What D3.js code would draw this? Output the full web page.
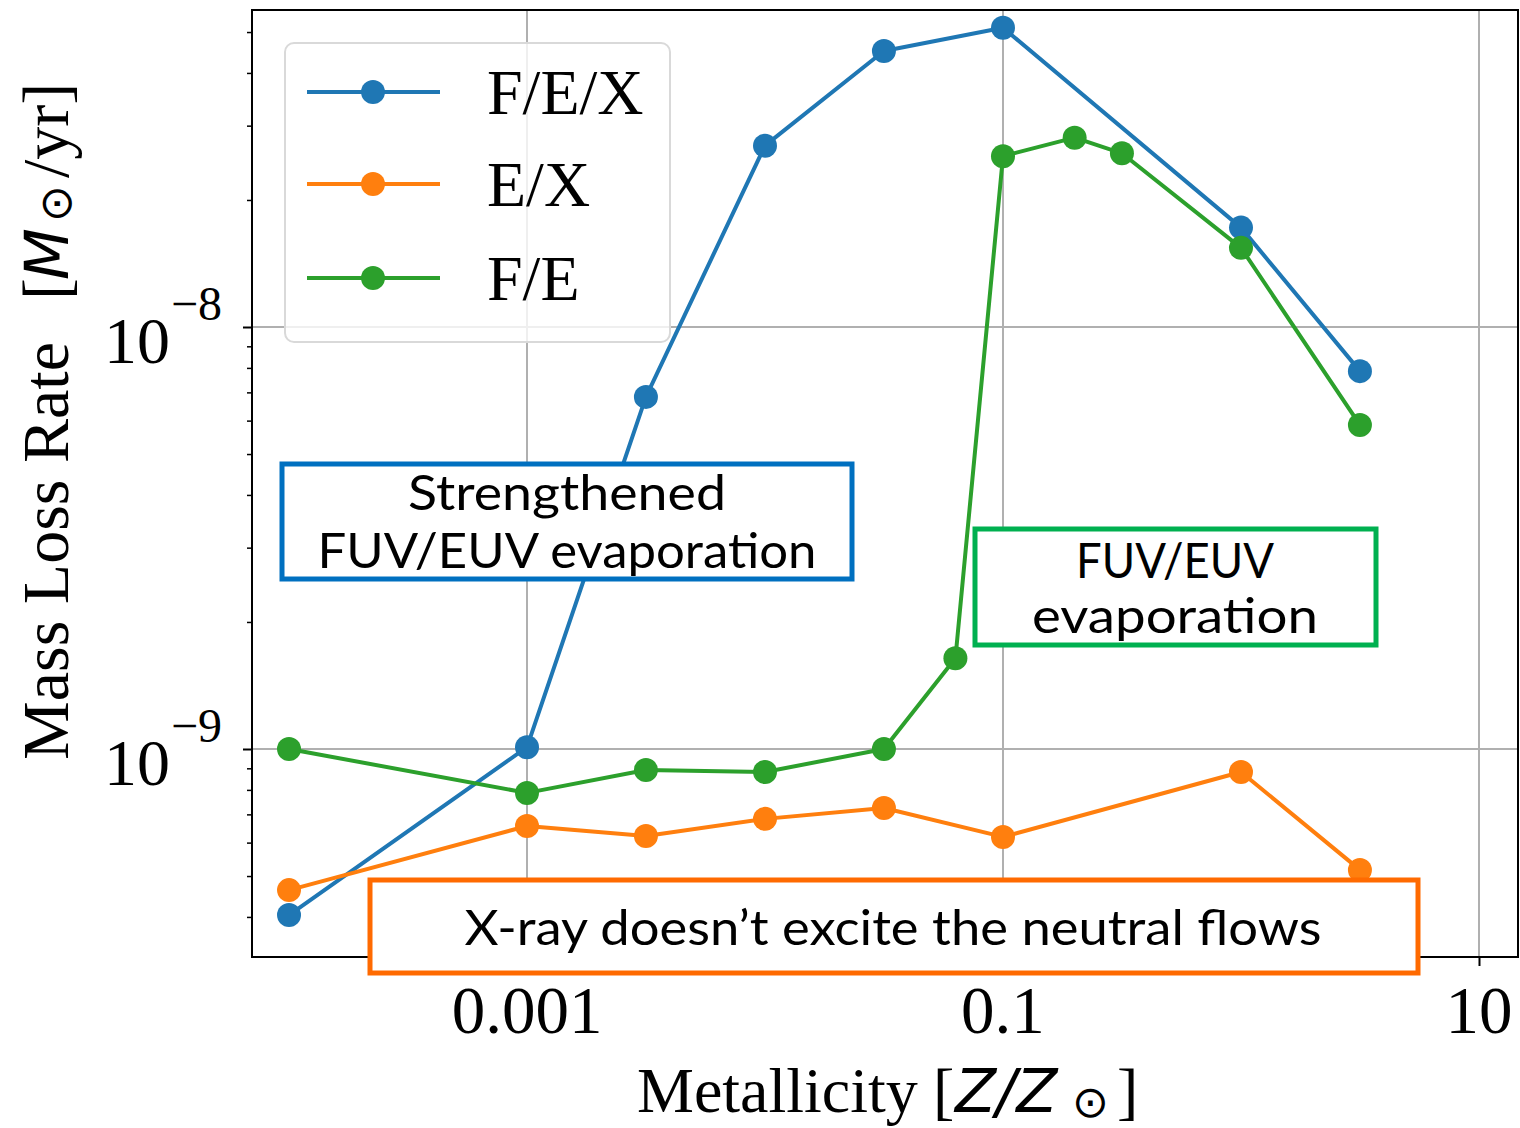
<!DOCTYPE html>
<html>
<head>
<meta charset="utf-8">
<script src="https://cdn.jsdelivr.net/npm/d3@7"></script>
<style>
  html, body { margin: 0; padding: 0; background: #fff; }
  svg { display: block; }
</style>
</head>
<body>
<svg id="chart" width="1520" height="1128"></svg>
<script>
// Mass loss rate vs metallicity for three irradiation setups
const zCoarse = [0.0001, 0.001, 0.00316, 0.01, 0.0316, 0.1, 1, 3.16];
const zFine   = [0.0001, 0.001, 0.00316, 0.01, 0.0316, 0.0631, 0.1, 0.2, 0.316, 1, 3.16];

const rateFEX = [4.04e-10, 1.01e-9, 6.83e-9, 2.69e-8, 4.51e-8, 5.12e-8, 1.72e-8, 7.86e-9];
const rateEX  = [4.63e-10, 6.57e-10, 6.22e-10, 6.83e-10, 7.25e-10, 6.19e-10, 8.82e-10, 5.17e-10];
const rateFE  = [1.0e-9, 7.87e-10, 8.92e-10, 8.82e-10, 1.0e-9, 1.64e-9, 2.54e-8, 2.81e-8, 2.58e-8, 1.54e-8, 5.86e-9];

const seriesNames  = ["F/E/X", "E/X", "F/E"];
const seriesColors = ["#1f77b4", "#ff7f0e", "#2ca02c"];

const xTickValues = [0.001, 0.1, 10];
const xTickLabels = ["0.001", "0.1", "10"];
const yTickExponents = [-8, -9];

const notes = [
  { lines: ["Strengthened", "FUV/EUV evaporation"], color: "#0070c0" },
  { lines: ["FUV/EUV", "evaporation"], color: "#00b050" },
  { lines: ["X-ray doesn\u2019t excite the neutral flows"], color: "#ff6a00" }
];

const series = [
  { name: seriesNames[0], color: seriesColors[0], xs: zCoarse, ys: rateFEX },
  { name: seriesNames[1], color: seriesColors[1], xs: zCoarse, ys: rateEX },
  { name: seriesNames[2], color: seriesColors[2], xs: zFine,   ys: rateFE }
];

const svg = d3.select("#chart");
const plot = { left: 252, right: 1518, top: 10, bottom: 957 };

const x = d3.scaleLog()
  .domain([Math.pow(10, -4.1555), Math.pow(10, 1.1639)])
  .range([plot.left, plot.right]);
const y = d3.scaleLog()
  .domain([Math.pow(10, -9.4929), Math.pow(10, -7.2488)])
  .range([plot.bottom, plot.top]);

const serif = "'Liberation Serif', 'Times New Roman', serif";
const mathSans = "'DejaVu Sans', sans-serif";
const noteFont = "Lato, 'Noto Sans', sans-serif";

// grid
const grid = svg.append("g").attr("stroke", "#b0b0b0").attr("stroke-width", 2);
grid.selectAll("line.gx").data(xTickValues).join("line")
  .attr("x1", d => x(d)).attr("x2", d => x(d))
  .attr("y1", plot.top).attr("y2", plot.bottom);
grid.selectAll("line.gy").data(yTickExponents).join("line")
  .attr("x1", plot.left).attr("x2", plot.right)
  .attr("y1", d => y(Math.pow(10, d))).attr("y2", d => y(Math.pow(10, d)));

// axes (ticks via d3 axis generators)
const xAxis = d3.axisBottom(x).tickValues(xTickValues).tickFormat("").tickSize(9).tickSizeOuter(0);
svg.append("g").attr("transform", `translate(0,${plot.bottom})`).call(xAxis)
  .call(g => g.select(".domain").remove())
  .call(g => g.selectAll("line").attr("stroke", "#000").attr("stroke-width", 2));

const yMinor = [];
[-10, -9, -8].forEach(e => { for (let m = 2; m <= 9; m++) yMinor.push(m * Math.pow(10, e)); });
const yMinorIn = yMinor.filter(v => v >= y.domain()[0] && v <= y.domain()[1]);
svg.append("g").attr("transform", `translate(${plot.left},0)`)
  .call(d3.axisLeft(y).tickValues(yMinorIn).tickFormat("").tickSize(5).tickSizeOuter(0))
  .call(g => g.select(".domain").remove())
  .call(g => g.selectAll("line").attr("stroke", "#000").attr("stroke-width", 1.5));
svg.append("g").attr("transform", `translate(${plot.left},0)`)
  .call(d3.axisLeft(y).tickValues(yTickExponents.map(e => Math.pow(10, e))).tickFormat("").tickSize(9).tickSizeOuter(0))
  .call(g => g.select(".domain").remove())
  .call(g => g.selectAll("line").attr("stroke", "#000").attr("stroke-width", 2));

// frame
svg.append("rect")
  .attr("x", plot.left).attr("y", plot.top)
  .attr("width", plot.right - plot.left).attr("height", plot.bottom - plot.top)
  .attr("fill", "none").attr("stroke", "#000").attr("stroke-width", 2);

// x tick labels
svg.append("g").selectAll("text").data(xTickValues).join("text")
  .attr("x", d => x(d)).attr("y", 1033)
  .attr("text-anchor", "middle")
  .attr("font-family", serif).attr("font-size", 67)
  .text((d, i) => xTickLabels[i]);

// y tick labels 10^k
const yLab = svg.append("g").selectAll("g").data(yTickExponents).join("g")
  .attr("transform", d => `translate(0,${y(Math.pow(10, d))})`);
yLab.append("text")
  .attr("x", 170).attr("y", 36).attr("text-anchor", "end")
  .attr("font-family", serif).attr("font-size", 66).text("10");
yLab.append("text")
  .attr("x", 171).attr("y", -7).attr("text-anchor", "start")
  .attr("font-family", serif).attr("font-size", 48).text(d => "\u2212" + Math.abs(d));

// axis titles
const xt = svg.append("text")
  .attr("y", 1112)
  .attr("font-family", serif).attr("font-size", 64);
xt.append("tspan").attr("x", 637).text("Metallicity");
xt.append("tspan").attr("x", 933).text("[");
xt.append("tspan").attr("x", 955).attr("font-family", mathSans).attr("font-style", "italic").attr("font-size", 60).text("Z/Z");
xt.append("tspan").attr("x", 1072).attr("font-family", mathSans).attr("font-size", 44).attr("dy", 5).text("\u2299");
xt.append("tspan").attr("x", 1117).attr("dy", -5).text("]");

const yt = svg.append("text")
  .attr("transform", "translate(68,760) rotate(-90)")
  .attr("font-family", serif).attr("font-size", 66);
yt.append("tspan").attr("x", 0).text("Mass Loss Rate");
yt.append("tspan").attr("x", 460).text("[");
yt.append("tspan").attr("x", 480).attr("font-family", mathSans).attr("font-style", "italic").attr("font-size", 60).text("M");
yt.append("tspan").attr("x", 538).attr("font-family", mathSans).attr("font-size", 44).attr("dy", 3).text("\u2299");
yt.append("tspan").attr("x", 582).attr("dy", -3).text("/yr]");

// series lines and markers
const line = d3.line().x(d => x(d[0])).y(d => y(d[1]));
const sg = svg.append("g").selectAll("g").data(series).join("g");
sg.append("path")
  .attr("d", s => line(s.xs.map((v, i) => [v, s.ys[i]])))
  .attr("fill", "none").attr("stroke", s => s.color).attr("stroke-width", 4)
  .attr("stroke-linejoin", "round");
sg.each(function (s) {
  d3.select(this).selectAll("circle").data(s.xs.map((v, i) => [v, s.ys[i]])).join("circle")
    .attr("cx", d => x(d[0])).attr("cy", d => y(d[1])).attr("r", 12)
    .attr("fill", s.color);
});

// legend
const lg = svg.append("g");
lg.append("rect")
  .attr("x", 285).attr("y", 43).attr("width", 385).attr("height", 299).attr("rx", 9)
  .attr("fill", "#fff").attr("fill-opacity", 0.8)
  .attr("stroke", "#d9d9d9").attr("stroke-width", 2);
const rows = [92, 184, 278];
const li = lg.selectAll("g").data(series).join("g")
  .attr("transform", (d, i) => `translate(0,${rows[i]})`);
li.append("line").attr("x1", 307).attr("x2", 440).attr("y1", 0).attr("y2", 0)
  .attr("stroke", d => d.color).attr("stroke-width", 4);
li.append("circle").attr("cx", 373).attr("cy", 0).attr("r", 12).attr("fill", d => d.color);
li.append("text").attr("x", 487).attr("y", 22)
  .attr("font-family", serif).attr("font-size", 64).text(d => d.name);

// annotation boxes
const boxes = [
  { x0: 282, y0: 464, x1: 852, y1: 579, cx: 567, base: [510, 568], widths: [318, 499] },
  { x0: 975, y0: 529, x1: 1376, y1: 645, cx: 1175, base: [578, 633], widths: [198, 286] },
  { x0: 370, y0: 880, x1: 1418, y1: 973, cx: 893, base: [945], widths: [857] }
];
boxes.forEach((b, k) => {
  svg.append("rect")
    .attr("x", b.x0).attr("y", b.y0).attr("width", b.x1 - b.x0).attr("height", b.y1 - b.y0)
    .attr("fill", "#fff").attr("stroke", notes[k].color).attr("stroke-width", 5);
  notes[k].lines.forEach((t, j) => {
    svg.append("text")
      .attr("x", b.cx).attr("y", b.base[j]).attr("text-anchor", "middle")
      .attr("font-family", noteFont).attr("font-size", 48)
      .attr("textLength", b.widths[j]).attr("lengthAdjust", "spacingAndGlyphs")
      .text(t);
  });
});
</script>
</body>
</html>
